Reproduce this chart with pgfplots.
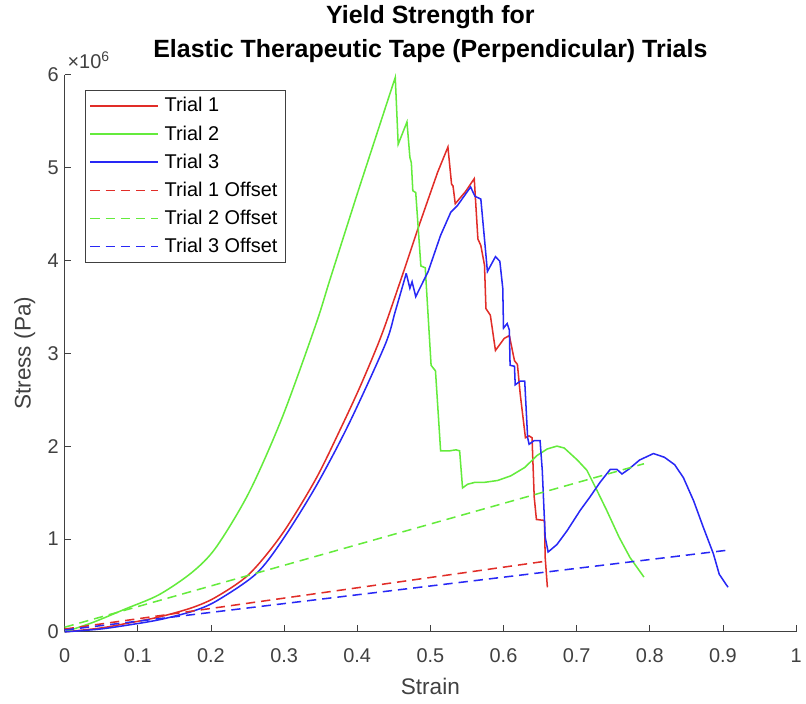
\documentclass[border=0pt]{standalone}
\usepackage{fontspec}
\setmainfont{Liberation Sans}
\usepackage{pgfplots}
\pgfplotsset{compat=1.18}
\definecolor{tred}{RGB}{225,45,40}
\definecolor{tgreen}{RGB}{100,235,60}
\definecolor{tblue}{RGB}{40,40,245}
\definecolor{axgray}{RGB}{64,64,64}
\begin{document}
\begin{tikzpicture}
\path (-48.75pt,-54pt) rectangle (555.75pt,476.25pt);
\begin{axis}[
 at={(0,0)}, anchor=south west, scale only axis,
 width=551.25pt, height=420pt,
 xmin=0, xmax=1, ymin=0, ymax=6,
 axis x line=bottom, axis y line=left,
 axis line style={-, axgray, line width=0.6pt},
 xtick={0,0.1,0.2,0.3,0.4,0.5,0.6,0.7,0.8,0.9,1},
 xticklabels={0,0.1,0.2,0.3,0.4,0.5,0.6,0.7,0.8,0.9,1},
 ytick={0,1,2,3,4,5,6},
 tick align=inside, major tick length=5pt,
 tick style={axgray, line width=0.6pt},
 ticklabel style={font=\fontsize{15}{18}\selectfont, text=axgray},
 /pgf/number format/assume math mode=true,
 xticklabel style={yshift=-9pt},
 yticklabel style={xshift=-1pt},
 xlabel={Strain}, ylabel={Stress (Pa)},
 xlabel style={font=\fontsize{17}{20}\selectfont, text=axgray, at={(axis description cs:0.5,-0.0982)}, anchor=center},
 ylabel style={font=\fontsize{17}{20}\selectfont, text=axgray, at={(axis description cs:-0.0544,0.5)}, anchor=center, rotate=0},
 clip=false,
 legend style={at={(axis description cs:0,1)}, anchor=north west,
   xshift=15pt, yshift=-11.25pt, line width=0.6pt, draw=axgray,
   font=\fontsize{15}{18}\selectfont,
   nodes={text height=12.8pt, text depth=3.8pt, inner sep=2.3pt},
   row sep=0pt, inner xsep=3.5pt, inner ysep=1.5pt,
   /tikz/every odd column/.append style={column sep=2pt}},
 legend cell align=left,
 legend image code/.code={\draw[#1, line width=1.2pt] (0pt,0pt) -- (51pt,0pt);},
]
% Trial 1
\addplot[tred, line width=1.15pt, smooth, forget plot] coordinates {
(0,0) (0.048,0.04) (0.084,0.09) (0.129,0.16) (0.174,0.26) (0.207,0.375) (0.252,0.62) (0.297,1.05) (0.343,1.64) (0.378,2.20) (0.405,2.66) (0.433,3.19) (0.460,3.80) (0.483,4.34) (0.510,4.95)
};
\addplot[tred, line width=1.15pt] coordinates {
(0.510,4.95) (0.524,5.22) (0.529,4.82) (0.531,4.80) (0.534,4.61) (0.548,4.74) (0.560,4.88) (0.565,4.23) (0.569,4.16) (0.574,3.95) (0.576,3.48) (0.582,3.41) (0.589,3.03) (0.601,3.16) (0.608,3.19) (0.615,2.92) (0.619,2.88) (0.623,2.55) (0.630,2.09) (0.635,2.11) (0.639,2.09) (0.642,1.45) (0.645,1.21) (0.656,1.20) (0.657,0.80) (0.660,0.48)
};
\addlegendentry{Trial 1}
% Trial 2
\addplot[tgreen, line width=1.15pt, smooth, forget plot] coordinates {
(0,0) (0.038,0.10) (0.084,0.25) (0.129,0.40) (0.174,0.64) (0.207,0.91) (0.252,1.50) (0.297,2.30) (0.343,3.30) (0.363,3.80) (0.401,4.74)
};
\addplot[tgreen, line width=1.15pt] coordinates {
(0.401,4.74) (0.452,5.97) (0.456,5.25) (0.468,5.49) (0.472,5.11) (0.474,5.05) (0.476,4.75) (0.480,4.73) (0.487,3.94) (0.493,3.92) (0.501,2.87) (0.507,2.81) (0.514,1.95) (0.527,1.95) (0.535,1.96) (0.540,1.95) (0.544,1.55) (0.551,1.59) (0.561,1.61) (0.574,1.61) (0.592,1.63) (0.610,1.68) (0.629,1.77) (0.646,1.90) (0.660,1.97) (0.673,2.00) (0.683,1.98) (0.701,1.85) (0.714,1.74) (0.728,1.52) (0.741,1.31) (0.758,1.02) (0.773,0.80) (0.792,0.59)
};
\addlegendentry{Trial 2}
% Trial 3
\addplot[tblue, line width=1.15pt, smooth, forget plot] coordinates {
(0,0) (0.048,0.03) (0.084,0.07) (0.129,0.13) (0.174,0.22) (0.207,0.33) (0.261,0.62) (0.297,0.98) (0.343,1.56) (0.388,2.23) (0.438,3.09) (0.452,3.45) (0.467,3.86)
};
\addplot[tblue, line width=1.15pt] coordinates {
(0.467,3.86) (0.472,3.70) (0.475,3.77) (0.480,3.61) (0.497,3.88) (0.514,4.27) (0.528,4.52) (0.537,4.59) (0.555,4.79) (0.561,4.69) (0.569,4.66) (0.574,4.23) (0.578,3.88) (0.589,4.04) (0.595,3.99) (0.599,3.70) (0.600,3.27) (0.605,3.32) (0.608,3.25) (0.609,2.87) (0.615,2.86) (0.616,2.66) (0.623,2.70) (0.629,2.70) (0.633,2.09) (0.635,2.02) (0.642,2.06) (0.650,2.06) (0.653,1.74) (0.657,1.02) (0.661,0.86) (0.673,0.94) (0.687,1.09) (0.705,1.31) (0.718,1.45) (0.732,1.61) (0.746,1.75) (0.755,1.75) (0.762,1.70) (0.771,1.75) (0.786,1.85) (0.805,1.92) (0.820,1.88) (0.834,1.80) (0.846,1.66) (0.860,1.41) (0.873,1.13) (0.887,0.84) (0.895,0.62) (0.907,0.48)
};
\addlegendentry{Trial 3}
\addplot[tred, line width=1.15pt, dash pattern=on 7pt off 4.5pt] coordinates {(0,0.03) (0.657,0.76)};
\addlegendentry{Trial 1 Offset}
\addplot[tgreen, line width=1.15pt, dash pattern=on 7pt off 4.5pt] coordinates {(0,0.05) (0.792,1.81)};
\addlegendentry{Trial 2 Offset}
\addplot[tblue, line width=1.15pt, dash pattern=on 7pt off 4.5pt] coordinates {(0,0.02) (0.907,0.88)};
\addlegendentry{Trial 3 Offset}
\node[anchor=base west, font=\fontsize{15}{17}\selectfont, text=axgray, inner sep=0pt] at (axis description cs:0,1) [xshift=2pt, yshift=4.5pt] {×10\textsuperscript{6}};
\node[anchor=base, font=\bfseries\fontsize{18.8}{20}\selectfont, inner sep=0pt] at (axis description cs:0.5,1) [yshift=38.5pt] {Yield Strength for};
\node[anchor=base, font=\bfseries\fontsize{18.8}{20}\selectfont, inner sep=0pt] at (axis description cs:0.5,1) [yshift=13pt] {Elastic Therapeutic Tape (Perpendicular) Trials};
\end{axis}
\end{tikzpicture}
\end{document}
